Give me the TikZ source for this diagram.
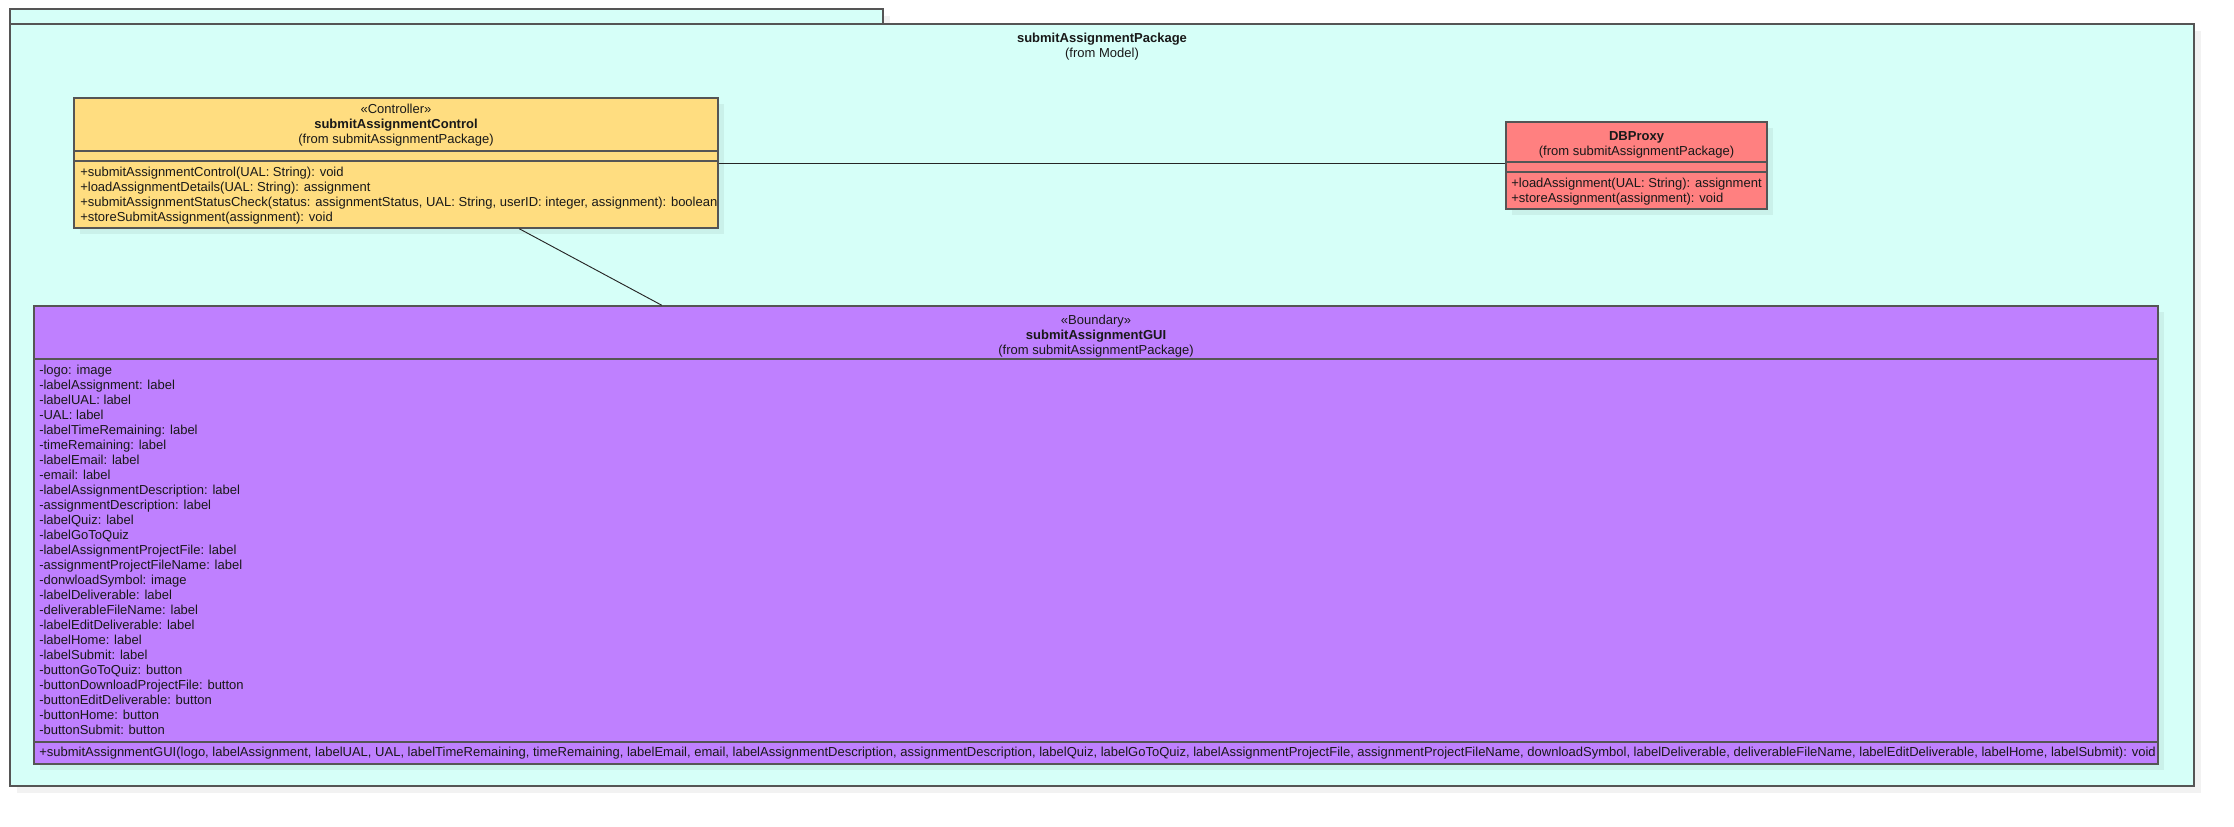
\documentclass[tikz,border=0pt]{standalone}
\usepackage{fontspec}
\setmainfont{Liberation Sans}
\usetikzlibrary{calc}
\definecolor{pkgfill}{RGB}{214,255,248}
\definecolor{ctrlfill}{RGB}{255,221,128}
\definecolor{dbfill}{RGB}{255,128,128}
\definecolor{guifill}{RGB}{191,128,255}
\definecolor{edge}{RGB}{85,85,85}
\definecolor{txtc}{RGB}{25,25,25}
\begin{document}
\begin{tikzpicture}[x=0.75pt,y=-0.75pt,
  txt/.style={inner sep=0pt, font=\fontsize{9.76}{11.25}\selectfont, text=txtc},
  boldtxt/.style={txt, font=\fontsize{9.76}{11.25}\selectfont\bfseries},
  classbox/.style={draw=edge, line width=1.1pt, inner sep=0pt},
  divider/.style={draw=edge, line width=1.5pt},
  shade/.style={fill=black, fill opacity=0.055},
  outshade/.style={fill=black!5},
  conn/.style={draw=black!85, line width=0.7pt}]
\useasboundingbox (0,0) rectangle (2234,826);
% package shadow
\fill[outshade] (17,31) rectangle (2201,793);
\fill[outshade] (17,16) rectangle (890,31);
% package tab and body
\draw[fill=pkgfill, draw=edge, line width=1.1pt] (10,9) rectangle (883,24);
\draw[fill=pkgfill, draw=edge, line width=1.1pt] (10,24) rectangle (2194,786);
\node[boldtxt, anchor=base] (pkgname) at (1102,42.5) {submitAssignmentPackage};
\node[txt, anchor=base] (pkgfrom) at (1102,57) {(from Model)};
% shadows of classes
\fill[shade] (80,104) rectangle (724,234);
\fill[shade] (1512,128) rectangle (1773,215);
\fill[shade] (40,312) rectangle (2164,770);
% Controller class
\node[classbox, fill=ctrlfill, minimum width=483pt, minimum height=97.5pt] (ctrl) at (396,163) {};
\draw[divider] (ctrl.west |- 0,151) -- (ctrl.east |- 0,151);
\draw[divider] (ctrl.west |- 0,161) -- (ctrl.east |- 0,161);
\node[txt, anchor=base] (ctrlst) at (396,113.5) {«Controller»};
\node[boldtxt, anchor=base] (ctrlname) at (396,128.5) {submitAssignmentControl};
\node[txt, anchor=base] (ctrlfrom) at (396,143.5) {(from submitAssignmentPackage)};
\node[txt, anchor=base west] (cm1) at (80,176.5) {+submitAssignmentControl(UAL: String): void};
\node[txt, anchor=base west] (cm2) at (80,191.5) {+loadAssignmentDetails(UAL: String): assignment};
\node[txt, anchor=base west] (cm3) at (80,206.5) {+submitAssignmentStatusCheck(status: assignmentStatus, UAL: String, userID: integer, assignment): boolean};
\node[txt, anchor=base west] (cm4) at (80,221.5) {+storeSubmitAssignment(assignment): void};
% DBProxy class
\node[classbox, fill=dbfill, minimum width=195.75pt, minimum height=65.25pt] (db) at (1636.5,165.5) {};
\draw[divider] (db.west |- 0,162) -- (db.east |- 0,162);
\draw[divider] (db.west |- 0,172) -- (db.east |- 0,172);
\node[boldtxt, anchor=base] (dbname) at (1636.5,140) {DBProxy};
\node[txt, anchor=base] (dbfrom) at (1636.5,155.5) {(from submitAssignmentPackage)};
\node[txt, anchor=base west] (dm1) at (1511,187.5) {+loadAssignment(UAL: String): assignment};
\node[txt, anchor=base west] (dm2) at (1511,202.5) {+storeAssignment(assignment): void};
% GUI class
\node[classbox, fill=guifill, minimum width=1593pt, minimum height=343.5pt] (gui) at (1096,535) {};
\draw[divider] (gui.west |- 0,359) -- (gui.east |- 0,359);
\draw[divider] (gui.west |- 0,742) -- (gui.east |- 0,742);
\node[txt, anchor=base] (guist) at (1096,324.5) {«Boundary»};
\node[boldtxt, anchor=base] (guiname) at (1096,339.5) {submitAssignmentGUI};
\node[txt, anchor=base] (guifrom) at (1096,354.5) {(from submitAssignmentPackage)};
\foreach \t [count=\i from 0] in {-logo: image,-labelAssignment: label,-labelUAL: label,-UAL: label,-labelTimeRemaining: label,-timeRemaining: label,-labelEmail: label,-email: label,-labelAssignmentDescription: label,-assignmentDescription: label,-labelQuiz: label,-labelGoToQuiz,-labelAssignmentProjectFile: label,-assignmentProjectFileName: label,-donwloadSymbol: image,-labelDeliverable: label,-deliverableFileName: label,-labelEditDeliverable: label,-labelHome: label,-labelSubmit: label,-buttonGoToQuiz: button,-buttonDownloadProjectFile: button,-buttonEditDeliverable: button,-buttonHome: button,-buttonSubmit: button}
  \node[txt, anchor=base west] (ga\i) at (39,{374.5+15*\i}) {\t};
\node[txt, anchor=base west] (gm1) at (39,756.5) {+submitAssignmentGUI(logo, labelAssignment, labelUAL, UAL, labelTimeRemaining, timeRemaining, labelEmail, email, labelAssignmentDescription, assignmentDescription, labelQuiz, labelGoToQuiz, labelAssignmentProjectFile, assignmentProjectFileName, downloadSymbol, labelDeliverable, deliverableFileName, labelEditDeliverable, labelHome, labelSubmit): void};
% connectors
\draw[conn] (ctrl.east) -- (ctrl.east -| db.west);
\draw[conn] ($(ctrl.south west)!0.691!(ctrl.south east)$) -- ($(gui.north west)!0.2957!(gui.north east)$);
\end{tikzpicture}
\end{document}
